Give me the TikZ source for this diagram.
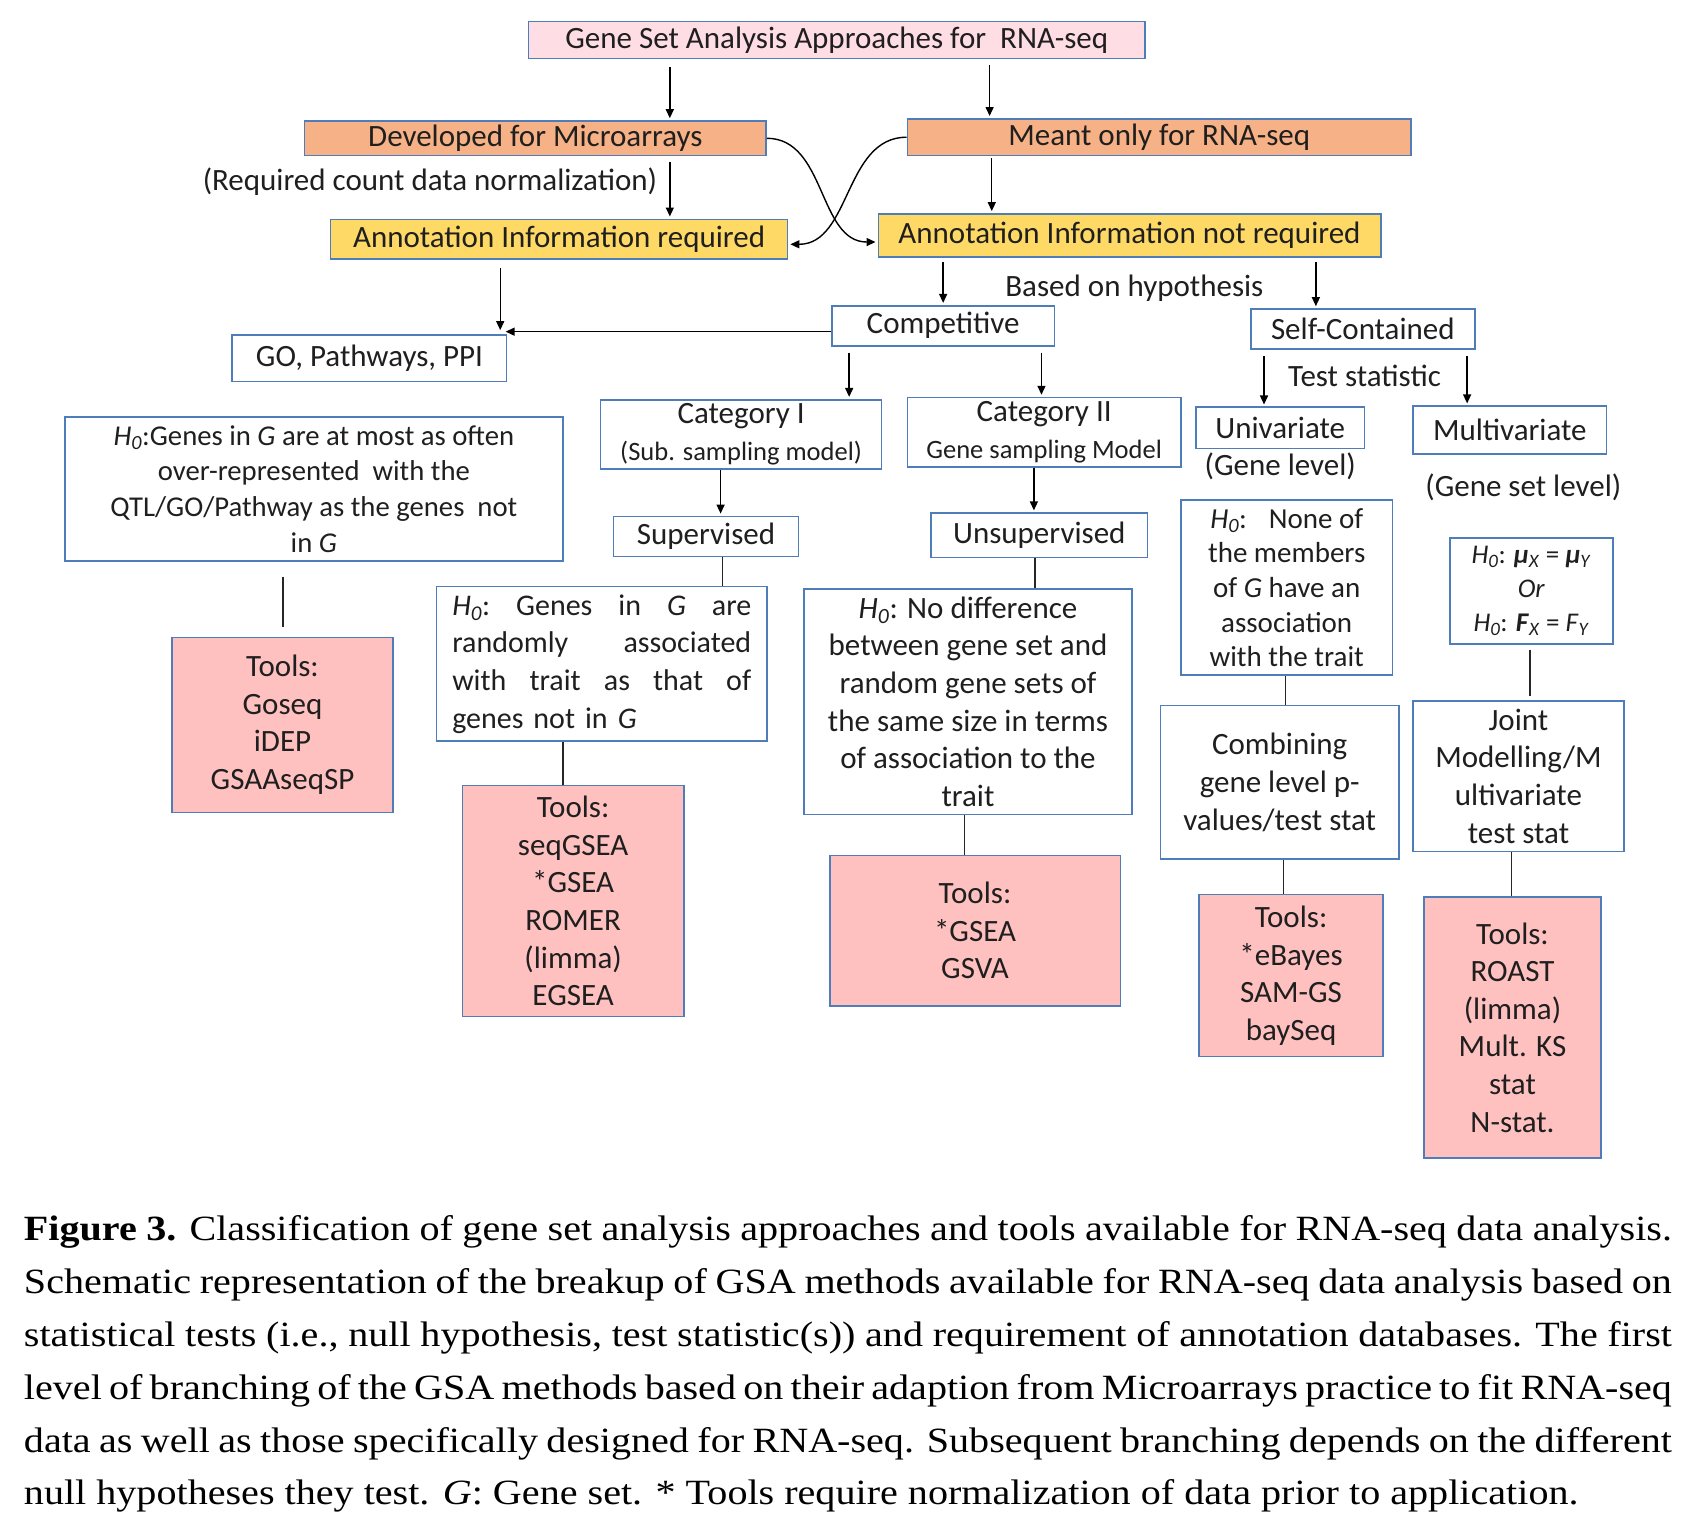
\documentclass[tikz,border=0pt]{standalone}
\usepackage{fontspec}
\setmainfont{Carlito}
\newfontfamily\capfont[FakeStretch=1.13]{Liberation Serif}
\usetikzlibrary{arrows.meta}
\definecolor{bordc}{RGB}{79,125,185}
\definecolor{toppink}{RGB}{255,221,228}
\definecolor{orng}{RGB}{246,178,134}
\definecolor{yell}{RGB}{255,217,102}
\definecolor{toolpink}{RGB}{255,192,192}
\newcommand\bx[7]{\node[#6, minimum width={(#4-#2)*1.0804pt}, minimum height={(#5-#3)*1.0804pt}] (#1) at ({(#2+#4)/2},{(#3+#5)/2}) {#7};}
\newcommand\hz{\textit{H}\textsubscript{\textit{0}}}
\newlength\capw
\setlength\capw{1648pt}
\tikzset{
  box/.style={draw=bordc, line width=1.6pt, inner sep=2pt, align=center, text=black!88,
    font=\fontsize{31}{37.6}\selectfont},
  topbox/.style={box, fill=toppink},
  orbox/.style={box, fill=orng},
  yelbox/.style={box, fill=yell},
  wbox/.style={box, fill=white},
  toolbox/.style={box, fill=toolpink},
  lbl/.style={font=\fontsize{31}{37.6}\selectfont, inner sep=0pt, text=black!88},
  arr/.style={draw=black, line width=1.4pt, -{Triangle[length=9pt,width=8pt]}, shorten <=6pt, shorten >=2pt},
  conn/.style={draw=black!85, line width=1.4pt},
  capline/.style={anchor=base west, inner sep=0pt, font=\capfont\fontsize{35.5}{53}\selectfont}
}
\begin{document}
\begin{tikzpicture}[x=1.0804pt, y=-1.0804pt]
\fill[white] (0,0) rectangle (1568,1418);
\useasboundingbox (0,0) rectangle (1568,1418);

% boxes
\bx{top}{489}{20}{1060}{54}{topbox}{Gene Set Analysis Approaches for~ RNA-seq}
\bx{dev}{282}{112}{709}{144}{orbox}{Developed for Microarrays}
\bx{meant}{840}{110}{1306}{144}{orbox}{Meant only for RNA-seq}
\bx{areq}{306}{203}{729}{240}{yelbox}{Annotation Information required}
\bx{anreq}{813}{198}{1278}{238}{yelbox}{Annotation Information not required}
\bx{GO}{215}{310}{469}{353}{wbox}{GO, Pathways, PPI}
\bx{comp}{770}{283}{976}{320}{wbox}{Competitive}
\bx{self}{1158}{286}{1365}{323}{wbox}{Self-Contained}
\bx{cat1}{556}{370}{816}{434}{wbox}{Category I\\{\fontsize{26.5}{30}\selectfont (Sub. sampling model)}}
\bx{cat2}{840}{368}{1093}{432}{wbox}{Category II\\{\fontsize{26.5}{30}\selectfont Gene sampling Model}}
\bx{uni}{1107}{377}{1263}{415}{wbox}{Univariate}
\bx{multi}{1308}{376}{1487}{420}{wbox}{Multivariate}
\bx{h1}{60}{386}{521}{519}{wbox, font=\fontsize{28.7}{35.6}\selectfont}{\hz:Genes in \textit{G} are at most as often\\over-represented~ with the\\QTL/GO/Pathway as the genes~ not\\in \textit{G}}
\bx{t1}{159}{590}{364}{752}{toolbox}{Tools:\\Goseq\\iDEP\\GSAAseqSP}
\bx{sup}{568}{478}{739}{515}{wbox}{Supervised}
\bx{h2}{404}{543}{710}{686}{wbox, align=left, text width=299pt, font=\fontsize{30}{37.6}\selectfont}{\hz:\hfill Genes\hfill in\hfill \textit{G}\hfill are\\randomly\hfill associated\\with\hfill trait\hfill as\hfill that\hfill of\\genes not in \textit{G}}
\bx{t2}{428}{727}{633}{941}{toolbox}{Tools:\\seqGSEA\\*GSEA\\ROMER\\(limma)\\EGSEA}
\bx{unsup}{862}{475}{1062}{516}{wbox}{Unsupervised}
\bx{h3}{744}{545}{1048}{754}{wbox}{\hz: No difference\\between gene set and\\random gene sets of\\the same size in terms\\of association to the\\trait}
\bx{t3}{768}{792}{1037}{931}{toolbox}{Tools:\\*GSEA\\GSVA}
\bx{h4}{1093}{463}{1289}{625}{wbox, font=\fontsize{29}{34.6}\selectfont}{\hz:~~ None of\\the members\\of \textit{G} have an\\association\\with the trait}
\bx{comb}{1074}{653}{1295}{795}{wbox, font=\fontsize{31}{37.8}\selectfont}{Combining\\gene level p-\\values/test stat}
\bx{t4}{1110}{828}{1280}{978}{toolbox}{Tools:\\*eBayes\\SAM-GS\\baySeq}
\bx{h5}{1342}{498}{1493}{596}{wbox, font=\fontsize{27}{34}\selectfont}{\hz: \textbf{\textit{μ}}\textsubscript{\textit{X}} = \textbf{\textit{μ}}\textsubscript{\textit{Y}}\\\textit{Or}\\\hz: \textbf{\textit{F}}\textsubscript{\textit{X}} = \textit{F}\textsubscript{\textit{Y}}}
\bx{joint}{1308}{649}{1503}{788}{wbox, font=\fontsize{31}{37.8}\selectfont}{Joint\\Modelling/M\\ultivariate\\test stat}
\bx{t5}{1318}{830}{1482}{1072}{toolbox}{Tools:\\ROAST\\(limma)\\Mult. KS\\stat\\N-stat.}

% free labels
\node[lbl] (reqtxt) at (398,168) {(Required count data normalization)};
\node[lbl] (hyptxt) at (1050,267) {Based on hypothesis};
\node[lbl] (testtxt) at (1263,348) {Test statistic};
\node[lbl] (genelvl) at (1185,432) {(Gene level)};
\node[lbl] (gsetlvl) at (1410,451) {(Gene set level)};

% x positions
\coordinate (c620) at (620,0);
\coordinate (c916) at (916,0);
\coordinate (c918) at (918,0);
\coordinate (c463) at (463,0);
\coordinate (c468) at (468,0);
\coordinate (y307) at (0,307);
\coordinate (c873) at (873,0);
\coordinate (c1218) at (1218,0);
\coordinate (c786) at (786,0);
\coordinate (c964) at (964,0);
\coordinate (c1170) at (1170,0);
\coordinate (c1358) at (1358,0);
\coordinate (c667) at (667,0);
\coordinate (c957) at (957,0);
\coordinate (c262) at (262,0);
\coordinate (c669) at (669,0);
\coordinate (c521) at (521,0);
\coordinate (c958) at (958,0);
\coordinate (c893) at (893,0);
\coordinate (c1190) at (1190,0);
\coordinate (c1188) at (1188,0);
\coordinate (c1416) at (1416,0);
\coordinate (c1399) at (1399,0);

% arrows
\draw[arr, shorten <=8pt] (c620 |- top.south) -- (c620 |- dev.north);
\draw[arr] (c916 |- top.south) -- (c916 |- meant.north);
\draw[arr] (c620 |- dev.south) -- (c620 |- areq.north);
\draw[arr, shorten <=2pt] (c918 |- meant.south) -- (c918 |- anreq.north);
\draw[arr, shorten <=0pt] (dev.east) to[out=0,in=180] ([yshift=-6.5pt]anreq.west);
\draw[arr, shorten <=0pt] (meant.west) to[out=180,in=0] ([yshift=-5pt]areq.east);
\draw[arr, shorten <=8pt, shorten >=4pt] (c463 |- areq.south) -- (c463 |- GO.north);
\draw[arr, shorten <=0pt, shorten >=0pt] (comp.west |- y307) -- (c468 |- y307);
\draw[arr, shorten <=4pt] (c873 |- anreq.south) -- (c873 |- comp.north);
\draw[arr, shorten <=4pt] (c1218 |- anreq.south) -- (c1218 |- self.north);
\draw[arr] (c786 |- comp.south) -- (c786 |- cat1.north);
\draw[arr] (c964 |- comp.south) -- (c964 |- cat2.north);
\draw[arr] (c1170 |- self.south) -- (c1170 |- uni.north);
\draw[arr] (c1358 |- self.south) -- (c1358 |- multi.north);
\draw[arr, shorten <=0pt] (c667 |- cat1.south) -- (c667 |- sup.north);
\draw[arr, shorten <=0pt] (c957 |- cat2.south) -- (c957 |- unsup.north);

% plain connectors
\draw[conn, shorten <=15pt, shorten >=10pt] (c262 |- h1.south) -- (c262 |- t1.north);
\draw[conn] (c669 |- sup.south) -- (c669 |- h2.north);
\draw[conn] (c521 |- h2.south) -- (c521 |- t2.north);
\draw[conn] (c958 |- unsup.south) -- (c958 |- h3.north);
\draw[conn] (c893 |- h3.south) -- (c893 |- t3.north);
\draw[conn] (c1190 |- h4.south) -- (c1190 |- comb.north);
\draw[conn] (c1188 |- comb.south) -- (c1188 |- t4.north);
\draw[conn, shorten <=5pt, shorten >=4pt] (c1416 |- h5.south) -- (c1416 |- joint.north);
\draw[conn] (c1399 |- joint.south) -- (c1399 |- t5.north);

% caption
\node[capline] (cap1) at (22,1148) {\makebox[\capw][s]{\textbf{Figure 3.} Classification of gene set analysis approaches and tools available for RNA-seq data analysis.}};
\node[capline] (cap2) at (22,1197) {\makebox[\capw][s]{Schematic representation of the breakup of GSA methods available for RNA-seq data analysis based on}};
\node[capline] (cap3) at (22,1246) {\makebox[\capw][s]{statistical tests (i.e., null hypothesis, test statistic(s)) and requirement of annotation databases. The first}};
\node[capline] (cap4) at (22,1295) {\makebox[\capw][s]{level of branching of the GSA methods based on their adaption from Microarrays practice to fit RNA-seq}};
\node[capline] (cap5) at (22,1344) {\makebox[\capw][s]{data as well as those specifically designed for RNA-seq. Subsequent branching depends on the different}};
\node[capline] (cap6) at (22,1393) {null hypotheses they test. \textit{G}: Gene set. * Tools require normalization of data prior to application.};
\end{tikzpicture}
\end{document}
